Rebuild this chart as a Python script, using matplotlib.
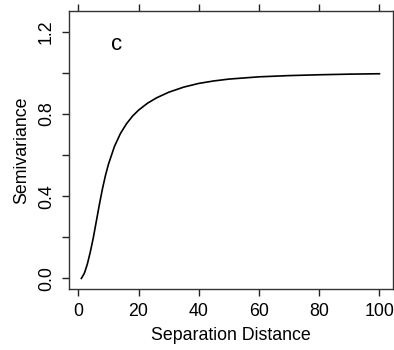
import matplotlib
matplotlib.use("Agg")
import matplotlib.pyplot as plt
import numpy as np

plt.rcParams['font.family'] = ['Liberation Sans', 'DejaVu Sans']

# Fitted semivariogram curve
distance = [1, 2, 3, 4, 5, 6, 7, 8, 9, 10, 12, 14, 16, 18, 20, 23, 26, 30,
            35, 40, 45, 50, 60, 70, 80, 90, 100]
semivariance = [0.0, 0.025, 0.07, 0.13, 0.2, 0.28, 0.36, 0.435, 0.5, 0.555,
                0.642, 0.705, 0.752, 0.789, 0.818, 0.852, 0.878, 0.905,
                0.93, 0.948, 0.96, 0.969, 0.98, 0.986, 0.99, 0.993, 0.995]

x_ticks = [0, 20, 40, 60, 80, 100]
y_ticks = [0.0, 0.2, 0.4, 0.6, 0.8, 1.0, 1.2]
y_tick_labels = ["0.0", "", "0.4", "", "0.8", "", "1.2"]
panel_label = "c"

W, H = 394, 350
fig = plt.figure(figsize=(W / 100, H / 100), dpi=100)
ax = fig.add_axes([69 / W, 1 - 288.7 / H, (393.3 - 69) / W, (288.7 - 11) / H])

ax.plot(distance, semivariance, color="black", lw=1.2)

ax.set_xlim(-3.1, 104.6)
ax.set_ylim(-0.05, 1.30)

ax.set_xticks(x_ticks)
ax.set_xticklabels([str(t) for t in x_ticks])
ax.set_yticks(y_ticks)
ax.set_yticklabels(y_tick_labels, rotation=90, va="center")

ax.tick_params(axis="both", direction="out", length=5, width=1.0,
               labelsize=12.8, pad=5, colors="#222222", labelcolor="black")
ax.tick_params(top=True, right=True, labeltop=False, labelright=False)

for s in ax.spines.values():
    s.set_linewidth(1.0)
    s.set_color("#333333")

ax.set_xlabel("Separation Distance", fontsize=12.8)
ax.set_ylabel("Semivariance", fontsize=12.8)
ax.xaxis.set_label_coords(0.5, -0.170)
ax.xaxis.label.set_va("center")
ax.yaxis.set_label_coords(-0.145, 0.5)
ax.yaxis.label.set_va("center")

ax.text(12.8, 1.135, panel_label, fontsize=16, ha="center", va="center")

fig.savefig("out.png", dpi=100)
